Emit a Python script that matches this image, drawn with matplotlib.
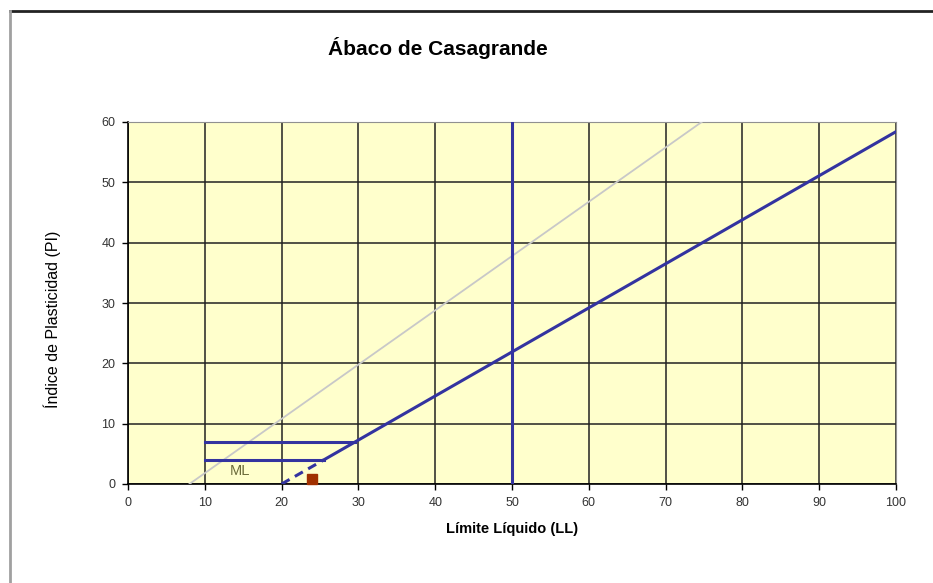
import matplotlib
matplotlib.use("Agg")
import matplotlib.pyplot as plt
from matplotlib.lines import Line2D

plt.rcParams['font.family'] = ['Liberation Sans', 'DejaVu Sans']

# datos del ábaco
linea_a_ll = [25.5, 100]
linea_a_pi = [4, 58.4]
linea_u_ll = [8, 74.7]
linea_u_pi = [0, 60]
ll_50 = [50, 50]
pi_50 = [0, 60]
h7_ll = [10, 29.6]
h7_pi = [7, 7]
h4_ll = [10, 25.5]
h4_pi = [4, 4]
dash_ll = [20, 25.5]
dash_pi = [0, 4]
muestra_ll = [24]
muestra_pi = [0.8]

azul = "#3333a0"

fig = plt.figure(figsize=(9.33, 5.83), dpi=100)
ax = fig.add_axes([128 / 933, 1 - 484 / 583, 768 / 933, 362 / 583])
ax.set_facecolor("#ffffcc")

ax.plot(linea_u_ll, linea_u_pi, color="#c8c8c8", lw=1.3, zorder=3)
ax.plot(ll_50, pi_50, color=azul, lw=2.2, zorder=4)
ax.plot(linea_a_ll, linea_a_pi, color=azul, lw=2.2, zorder=4)
ax.plot(h7_ll, h7_pi, color=azul, lw=2.2, zorder=4)
ax.plot(h4_ll, h4_pi, color=azul, lw=2.2, zorder=4)
ax.plot(dash_ll, dash_pi, color=azul, lw=2.2, ls=(0, (3, 2)), zorder=4)
ax.plot(muestra_ll, muestra_pi, ls="none", marker="s", ms=6.5,
        color="#a03000", zorder=5, clip_on=False)
ax.text(14.6, 2.2, "ML", fontsize=10.5, color="#6b6b3a", ha="center", va="center")

ax.set_xlim(0, 100)
ax.set_ylim(0, 60)
ax.set_xticks(range(0, 101, 10))
ax.set_yticks(range(0, 61, 10))
ax.grid(True, color="#222222", lw=1.1, zorder=1)
ax.set_axisbelow(True)
ax.tick_params(direction="out", length=4, width=1, labelsize=9,
               labelcolor="#333333", pad=5)
for s in ["top", "right"]:
    ax.spines[s].set_color("#909090")
for s in ["left", "bottom"]:
    ax.spines[s].set_color("black")
    ax.spines[s].set_linewidth(1.2)

ax.set_xlabel("Límite Líquido (LL)", fontsize=10.5, fontweight="bold", labelpad=10)
ax.set_ylabel("Índice de Plasticidad (PI)", fontsize=11.5)
ax.yaxis.set_label_coords(-0.087, 0.455)
fig.text(438 / 933, 1 - 48 / 583, "Ábaco de Casagrande", fontsize=15,
         fontweight="bold", ha="center", va="center")

# borde exterior del gráfico
fig.add_artist(Line2D([10 / 933, 1], [1 - 11 / 583, 1 - 11 / 583],
                      transform=fig.transFigure, color="#222222", lw=2))
fig.add_artist(Line2D([10 / 933, 10 / 933], [0, 1 - 11 / 583],
                      transform=fig.transFigure, color="#a0a0a0", lw=2))

fig.savefig("out.png", dpi=100)
